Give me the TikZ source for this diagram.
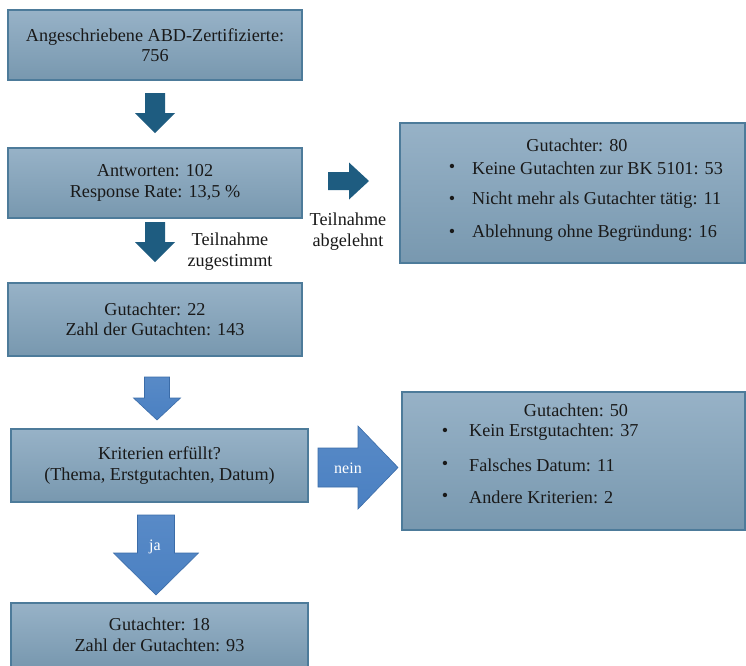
\documentclass[tikz,border=0pt]{standalone}
\usepackage{fontspec}
\setmainfont{Liberation Serif}
\definecolor{boxtop}{HTML}{97B2C7}
\definecolor{boxbot}{HTML}{7898AF}
\definecolor{boxedge}{HTML}{4D7B9A}
\definecolor{darkarrow}{HTML}{1E5C80}
\definecolor{lightarrow}{HTML}{4A80C2}
\definecolor{lightedge}{HTML}{3B6CA8}
\newcommand\vArrow[7]{\path[#1] ({#2-#3},{-#5}) -- ({#2+#3},{-#5}) -- ({#2+#3},{-#6}) -- ({#2+#4},{-#6}) -- (#2,{-#7}) -- ({#2-#4},{-#6}) -- ({#2-#3},{-#6}) -- cycle;}
\newcommand\hArrow[7]{\path[#1] (#5,{-(#2-#3)}) -- (#6,{-(#2-#3)}) -- (#6,{-(#2-#4)}) -- (#7,{-#2}) -- (#6,{-(#2+#4)}) -- (#6,{-(#2+#3)}) -- (#5,{-(#2+#3)}) -- cycle;}
\begin{document}
\begin{tikzpicture}[x=1pt,y=1pt,
  txt/.style={font=\fontsize{18.2}{20.5}\selectfont, text=black!90, inner sep=0pt},
  box/.style={txt, draw=boxedge, line width=1.3pt, top color=boxtop, bottom color=boxbot, align=center},
  darr/.style={fill=darkarrow},
  larr/.style={top color=lightarrow!92!white, bottom color=lightarrow, draw=lightedge, line width=0.6pt},
  side/.style={txt, align=center, font=\fontsize{18.2}{21}\selectfont},
  wlabel/.style={inner sep=0pt, text=white, font=\fontsize{16}{18}\selectfont},
  bul/.style={txt, anchor=center},
  item/.style={txt, anchor=west}]
\clip (0,0) rectangle (746,-665);
\fill[white] (0,0) rectangle (746,-665);

% left column boxes
\node[box, minimum width=294, minimum height=70] (b1) at (155,-45) {Angeschriebene ABD-Zertifizierte:\\756};
\node[box, minimum width=294, minimum height=70] (b2) at (155,-183) {Antworten: 102\\Response Rate: 13,5 \%};
\node[box, minimum width=294, minimum height=73] (b3) at (155,-319.5) {Gutachter: 22\\Zahl der Gutachten: 143};
\node[box, minimum width=297, minimum height=73] (b4) at (159.5,-465.5) {Kriterien erfüllt?\\(Thema, Erstgutachten, Datum)};
\node[box, minimum width=297, minimum height=64] (b5) at (159.5,-635) {Gutachter: 18\\Zahl der Gutachten: 93};

% right boxes
\node[box, minimum width=345, minimum height=140] (r1) at (572.5,-193) {};
\node[txt] (r1t) at (577,-145) {Gutachter: 80};
\node[bul] (r1b1) at (452,-168) {\textbullet};
\node[item] (r1i1) at (472,-168) {Keine Gutachten zur BK 5101: 53};
\node[bul] (r1b2) at (452,-200) {\textbullet};
\node[item] (r1i2) at (472,-200) {Nicht mehr als Gutachter tätig: 11};
\node[bul] (r1b3) at (452,-233) {\textbullet};
\node[item] (r1i3) at (472,-233) {Ablehnung ohne Begründung: 16};

\node[box, minimum width=343, minimum height=138] (r2) at (573.5,-461) {};
\node[txt] (r2t) at (576,-410) {Gutachten: 50};
\node[bul] (r2b1) at (445,-432) {\textbullet};
\node[item] (r2i1) at (469,-432) {Kein Erstgutachten: 37};
\node[bul] (r2b2) at (445,-465) {\textbullet};
\node[item] (r2i2) at (469,-465) {Falsches Datum: 11};
\node[bul] (r2b3) at (445,-497) {\textbullet};
\node[item] (r2i3) at (469,-497) {Andere Kriterien: 2};

% block arrows
\vArrow{darr}{155}{10}{20}{93}{113}{133}
\vArrow{darr}{155}{10}{20}{222}{242}{262}
\hArrow{darr}{181}{9}{18.5}{328}{349}{369}
\vArrow{larr}{157}{12.5}{23.5}{377}{398}{420}
\hArrow{larr}{467.5}{19.5}{41.5}{318}{358}{398}
\vArrow{larr}{156}{18.5}{42.5}{515}{553}{595}

% labels
\node[side] (zu) at (230,-251.5) {Teilnahme\\zugestimmt};
\node[side] (ab) at (348,-232) {Teilnahme\\abgelehnt};
\node[wlabel] (nein) at (348,-468) {nein};
\node[wlabel] (ja) at (155,-547) {ja};
\end{tikzpicture}
\end{document}
